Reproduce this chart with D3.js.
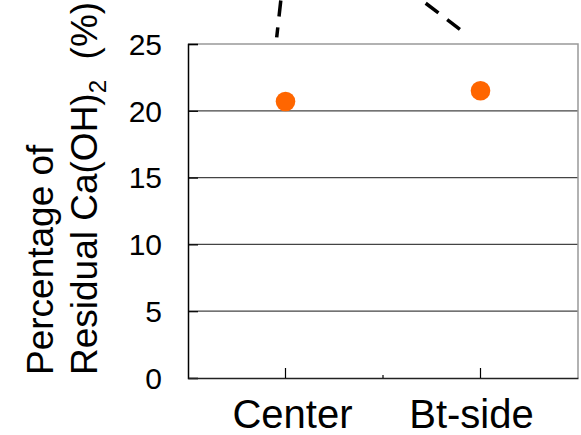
<!DOCTYPE html>
<html lang="en">
<head>
    <meta charset="UTF-8">
    <script src="https://d3js.org/d3.v7.min.js"></script>
    <style>
        body { margin: 0; background: #fff; }
        text { font-family: "Liberation Sans", Arial, sans-serif; fill: #000; }
    </style>
</head>
<body>
    <svg id="chart" width="581" height="435"></svg>
    <script>
        // categories and values
        const categories = ["Center", "Bt-side"];
        const residual = [20.7, 21.5];
        const yTicks = [0, 5, 10, 15, 20, 25];

        // dashed leader lines coming in from above (values beyond the axis top)
        const leaderCats = ["Center", "Bt-side"];
        const leaderFrom = [25.5, 28.05];
        const leaderTo = [28.6, 25.85];

        const width = 581, height = 435;
        const margin = { top: 44, right: 3, bottom: 57, left: 188 };

        const svg = d3.select("#chart");

        const x = d3.scaleBand()
            .domain(categories)
            .range([margin.left, width - margin.right])
            .padding(0);

        const y = d3.scaleLinear()
            .domain([0, 25])
            .range([height - margin.bottom, margin.top]);

        // gridlines
        svg.append("g")
            .selectAll("line")
            .data(yTicks.filter(d => d > 0 && d < 25))
            .enter().append("line")
            .attr("x1", margin.left)
            .attr("x2", width - margin.right)
            .attr("y1", d => y(d))
            .attr("y2", d => y(d))
            .attr("stroke", "#444")
            .attr("stroke-width", 1.2);

        // top and right border
        svg.append("path")
            .attr("d", `M${margin.left},${y(25)}H${width - margin.right}V${y(0)}`)
            .attr("fill", "none")
            .attr("stroke", "#999")
            .attr("stroke-width", 1.5);

        // left axis, ticks pointing inward
        const yAxis = svg.append("g")
            .attr("transform", `translate(${margin.left},0)`)
            .call(d3.axisRight(y).tickValues(yTicks).tickSize(10).tickFormat(""));
        yAxis.select(".domain").attr("stroke", "#000").attr("stroke-width", 1.5);
        yAxis.selectAll(".tick line").attr("stroke", "#000").attr("stroke-width", 1.2);

        svg.append("g")
            .selectAll("text")
            .data(yTicks)
            .enter().append("text")
            .attr("x", 162)
            .attr("y", d => y(d))
            .attr("dy", "0.36em")
            .attr("text-anchor", "end")
            .style("font-size", "30px")
            .text(d => d);

        // bottom axis, ticks pointing up
        const xAxis = svg.append("g")
            .attr("transform", `translate(0,${y(0)})`)
            .call(d3.axisTop(x).tickSize(10).tickSizeOuter(0).tickFormat(""));
        xAxis.select(".domain").attr("stroke", "#222").attr("stroke-width", 1.5);
        xAxis.selectAll(".tick line").attr("stroke", "#000").attr("stroke-width", 1.2);

        // small tick between the two categories
        xAxis.append("line")
            .attr("x1", x("Bt-side"))
            .attr("x2", x("Bt-side"))
            .attr("y1", 0)
            .attr("y2", -3)
            .attr("stroke", "#000")
            .attr("stroke-width", 1.2);

        const labelShift = { "Center": 7, "Bt-side": -9 };
        svg.append("g")
            .selectAll("text")
            .data(categories)
            .enter().append("text")
            .attr("x", d => x(d) + x.bandwidth() / 2 + labelShift[d])
            .attr("y", 428)
            .attr("text-anchor", "middle")
            .style("font-size", "40px")
            .text(d => d);

        // y title, two lines rotated
        const title = svg.append("text")
            .attr("transform", "rotate(-90)")
            .attr("text-anchor", "start")
            .style("font-size", "37px");
        title.append("tspan")
            .attr("x", -375).attr("y", 53)
            .text("Percentage of");
        const t2 = svg.append("text")
            .attr("transform", "rotate(-90)")
            .attr("x", -375).attr("y", 97)
            .style("font-size", "37px");
        t2.append("tspan").text("Residual Ca(OH)");
        t2.append("tspan").attr("dy", 9).style("font-size", "24px").text("2");
        t2.append("tspan").attr("dy", -9).text("\u00a0\u00a0(%)");

        // leader lines
        const leaderDx = [-8.8, -54.8];
        const leaderDx2 = [-4.2, -16.2];
        svg.append("g")
            .selectAll("line")
            .data(leaderCats)
            .enter().append("line")
            .attr("x1", (d, i) => x(d) + x.bandwidth() / 2 + leaderDx[i])
            .attr("y1", (d, i) => y(leaderFrom[i]))
            .attr("x2", (d, i) => x(d) + x.bandwidth() / 2 + leaderDx2[i])
            .attr("y2", (d, i) => y(leaderTo[i]))
            .attr("stroke", "#000")
            .attr("stroke-width", 3.5)
            .attr("stroke-dasharray", (d, i) => i === 0 ? "10 11 16 11" : "16 11");

        // data points
        svg.append("g")
            .selectAll("circle")
            .data(categories)
            .enter().append("circle")
            .attr("cx", d => x(d) + x.bandwidth() / 2)
            .attr("cy", (d, i) => y(residual[i]))
            .attr("r", 9.8)
            .attr("fill", "#ff6600");
    </script>
</body>
</html>
